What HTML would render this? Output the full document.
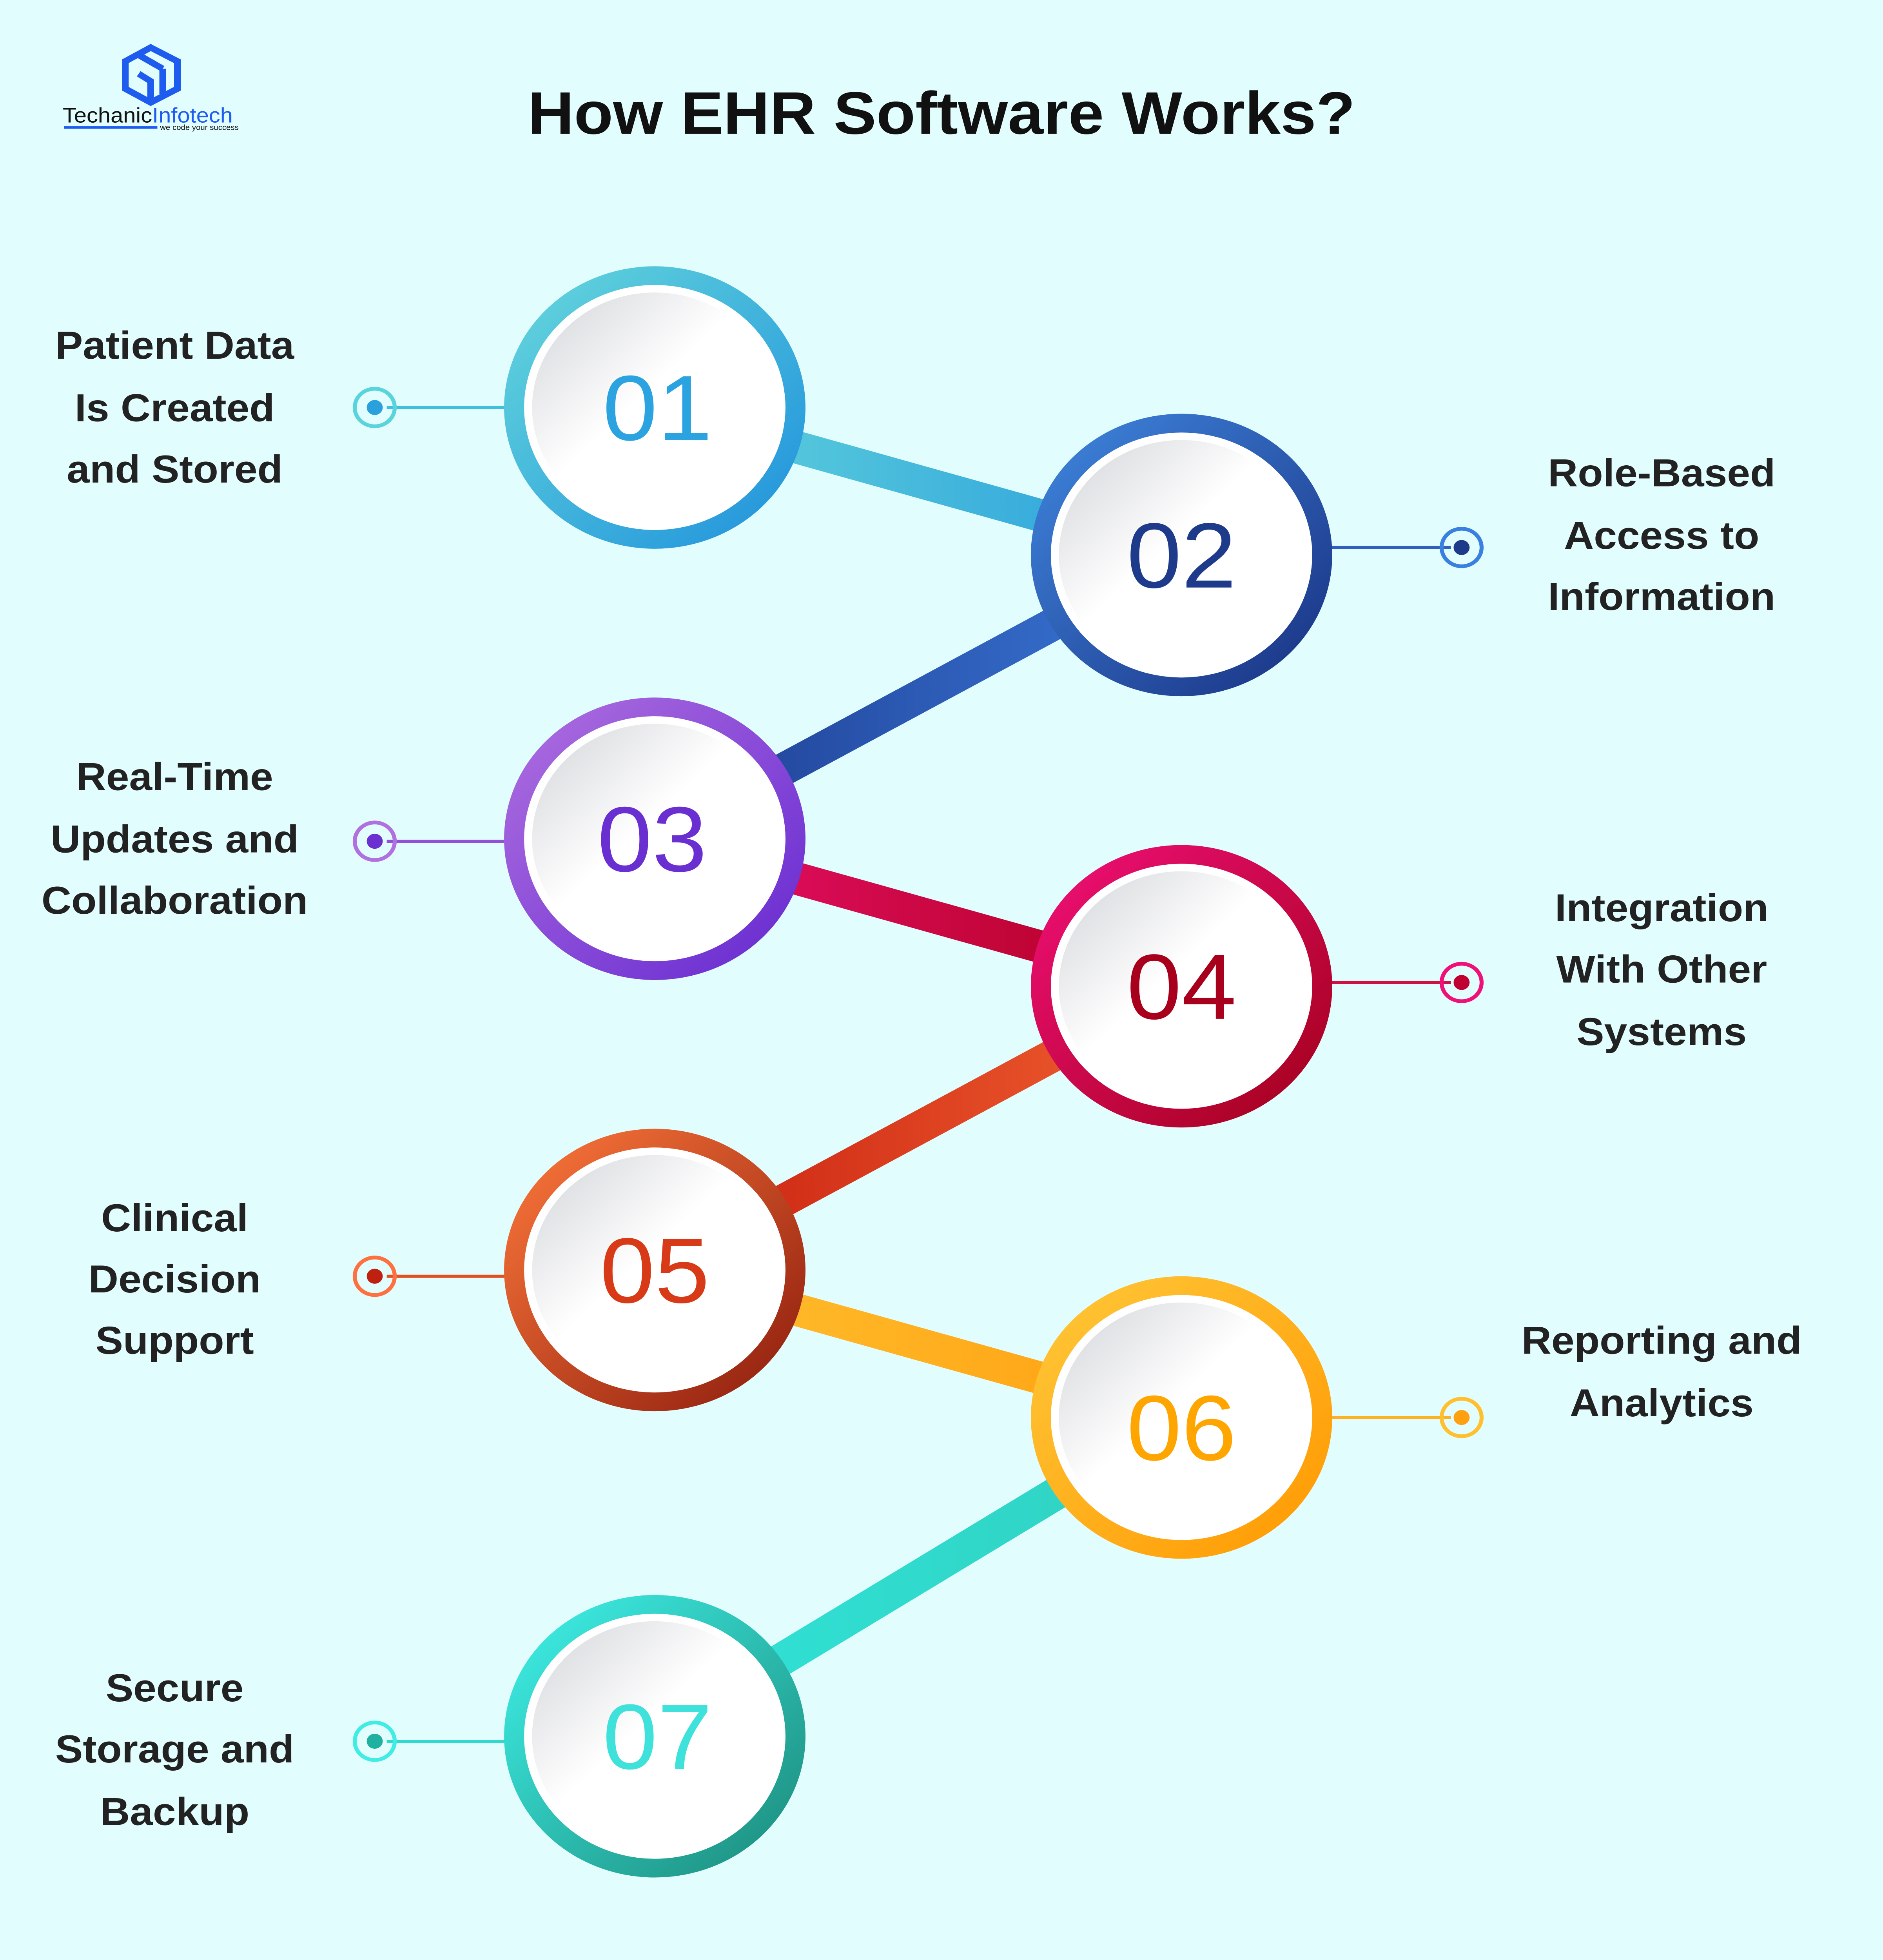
<!DOCTYPE html>
<html><head><meta charset="utf-8"><style>
html,body{margin:0;padding:0;background:#e2fdfe;overflow:hidden;width:100vw;height:100vh;}
svg{display:block;width:100vw;height:100vh;position:absolute;left:0;top:0}
text{font-family:"Liberation Sans",sans-serif}
</style></head><body>
<svg viewBox="0 0 1412 1568" preserveAspectRatio="none" xmlns="http://www.w3.org/2000/svg">
<defs>
<linearGradient id="g1" x1="0" y1="0" x2="1" y2="1"><stop offset="0" stop-color="#66d8dc"/><stop offset="1" stop-color="#1e90dc"/></linearGradient>
<linearGradient id="g2" x1="0" y1="0" x2="1" y2="1"><stop offset="0" stop-color="#4088e0"/><stop offset="1" stop-color="#182f80"/></linearGradient>
<linearGradient id="g3" x1="0" y1="0" x2="1" y2="1"><stop offset="0" stop-color="#b070e0"/><stop offset="1" stop-color="#6428d0"/></linearGradient>
<linearGradient id="g4" x1="0" y1="0" x2="1" y2="1"><stop offset="0" stop-color="#f2107a"/><stop offset="1" stop-color="#a00018"/></linearGradient>
<linearGradient id="g5" x1="0" y1="0" x2="1" y2="1"><stop offset="0" stop-color="#ff7a3c"/><stop offset="1" stop-color="#8a1a0c"/></linearGradient>
<linearGradient id="g6" x1="0" y1="0" x2="1" y2="1"><stop offset="0" stop-color="#ffc83a"/><stop offset="1" stop-color="#ff9800"/></linearGradient>
<linearGradient id="g7" x1="0" y1="0" x2="1" y2="1"><stop offset="0" stop-color="#40f4ec"/><stop offset="1" stop-color="#1a8878"/></linearGradient>
<linearGradient id="in" x1="0" y1="0" x2="1" y2="1"><stop offset="0" stop-color="#d2d4d8"/><stop offset="0.45" stop-color="#ffffff"/><stop offset="1" stop-color="#ffffff"/></linearGradient>
<linearGradient id="c12" x1="0" y1="0" x2="1" y2="0"><stop offset="0" stop-color="#62d4dc"/><stop offset="1" stop-color="#2a9edc"/></linearGradient>
<linearGradient id="c23" x1="1" y1="0" x2="0" y2="0"><stop offset="0" stop-color="#3a78d8"/><stop offset="1" stop-color="#1e3c90"/></linearGradient>
<linearGradient id="c34" x1="0" y1="0" x2="1" y2="0"><stop offset="0" stop-color="#e8106a"/><stop offset="1" stop-color="#b00020"/></linearGradient>
<linearGradient id="c45" x1="1" y1="0" x2="0" y2="0"><stop offset="0" stop-color="#f06030"/><stop offset="1" stop-color="#c82010"/></linearGradient>
<linearGradient id="c56" x1="0" y1="0" x2="1" y2="0"><stop offset="0" stop-color="#ffc030"/><stop offset="1" stop-color="#ffa010"/></linearGradient>
<linearGradient id="c67" x1="1" y1="0" x2="0" y2="0"><stop offset="0" stop-color="#30d0c0"/><stop offset="1" stop-color="#30e4d8"/></linearGradient>
</defs>
<rect width="1412" height="1568" fill="#e2fdfe"/>
<g transform="translate(92,35)" fill="none" stroke="#1e5cf0" stroke-width="5">
<path d="M21 3 L41 14 L41 36 L21 47 L2 36 L2 14 Z"/>
<path d="M12 9 L30 20 M12 24 L21 30 L21 47 M30 20 L30 40"/>
</g>
<text x="47" y="98" font-size="17" fill="#111">Techanic<tspan fill="#1e5cf0">Infotech</tspan></text>
<rect x="48" y="101" width="70" height="2" fill="#1e5cf0"/>
<text x="120" y="104" font-size="6" fill="#111">we code your success</text>
<text x="706" y="107" font-size="48" font-weight="bold" text-anchor="middle" fill="#111">How EHR Software Works?</text>
<line x1="491" y1="326" x2="886" y2="444" stroke="url(#c12)" stroke-width="26"/>
<line x1="886" y1="444" x2="491" y2="671" stroke="url(#c23)" stroke-width="26"/>
<line x1="491" y1="671" x2="886" y2="789" stroke="url(#c34)" stroke-width="26"/>
<line x1="886" y1="789" x2="491" y2="1016" stroke="url(#c45)" stroke-width="26"/>
<line x1="491" y1="1016" x2="886" y2="1134" stroke="url(#c56)" stroke-width="26"/>
<line x1="886" y1="1134" x2="491" y2="1389" stroke="url(#c67)" stroke-width="26"/>
<g stroke-width="2.5">
<line x1="290" y1="326" x2="380" y2="326" stroke="#40c0dc"/><circle cx="281" cy="326" r="15" fill="none" stroke="#5ad4dc" stroke-width="3"/><circle cx="281" cy="326" r="6" fill="#2aa0dc" stroke="none"/>
<line x1="996" y1="438" x2="1088" y2="438" stroke="#2f5fc0"/><circle cx="1096" cy="438" r="15" fill="none" stroke="#3a80e0" stroke-width="3"/><circle cx="1096" cy="438" r="6" fill="#1e3a8a" stroke="none"/>
<line x1="290" y1="673" x2="380" y2="673" stroke="#9050d8"/><circle cx="281" cy="673" r="15" fill="none" stroke="#b070e0" stroke-width="3"/><circle cx="281" cy="673" r="6" fill="#6a30d0" stroke="none"/>
<line x1="996" y1="786" x2="1088" y2="786" stroke="#d01040"/><circle cx="1096" cy="786" r="15" fill="none" stroke="#f0107a" stroke-width="3"/><circle cx="1096" cy="786" r="6" fill="#c00030" stroke="none"/>
<line x1="290" y1="1021" x2="380" y2="1021" stroke="#e05020"/><circle cx="281" cy="1021" r="15" fill="none" stroke="#ff7040" stroke-width="3"/><circle cx="281" cy="1021" r="6" fill="#c02010" stroke="none"/>
<line x1="996" y1="1134" x2="1088" y2="1134" stroke="#ffb020"/><circle cx="1096" cy="1134" r="15" fill="none" stroke="#ffc030" stroke-width="3"/><circle cx="1096" cy="1134" r="6" fill="#ffa010" stroke="none"/>
<line x1="290" y1="1393" x2="380" y2="1393" stroke="#30d8d0"/><circle cx="281" cy="1393" r="15" fill="none" stroke="#40ece4" stroke-width="3"/><circle cx="281" cy="1393" r="6" fill="#20b0a0" stroke="none"/>
</g>
<g>
<circle cx="491" cy="326" r="113" fill="url(#g1)"/><circle cx="491" cy="326" r="98" fill="#fff"/><circle cx="491" cy="326" r="92" fill="url(#in)"/>
<text x="493" y="352" font-size="74" text-anchor="middle" fill="#2aa3e0">01</text>
<circle cx="886" cy="444" r="113" fill="url(#g2)"/><circle cx="886" cy="444" r="98" fill="#fff"/><circle cx="886" cy="444" r="92" fill="url(#in)"/>
<text x="886" y="470" font-size="74" text-anchor="middle" fill="#1e3a8a">02</text>
<circle cx="491" cy="671" r="113" fill="url(#g3)"/><circle cx="491" cy="671" r="98" fill="#fff"/><circle cx="491" cy="671" r="92" fill="url(#in)"/>
<text x="489" y="697" font-size="74" text-anchor="middle" fill="#6a2fd0">03</text>
<circle cx="886" cy="789" r="113" fill="url(#g4)"/><circle cx="886" cy="789" r="98" fill="#fff"/><circle cx="886" cy="789" r="92" fill="url(#in)"/>
<text x="886" y="815" font-size="74" text-anchor="middle" fill="#a8001c">04</text>
<circle cx="491" cy="1016" r="113" fill="url(#g5)"/><circle cx="491" cy="1016" r="98" fill="#fff"/><circle cx="491" cy="1016" r="92" fill="url(#in)"/>
<text x="491" y="1042" font-size="74" text-anchor="middle" fill="#d83a18">05</text>
<circle cx="886" cy="1134" r="113" fill="url(#g6)"/><circle cx="886" cy="1134" r="98" fill="#fff"/><circle cx="886" cy="1134" r="92" fill="url(#in)"/>
<text x="886" y="1168" font-size="74" text-anchor="middle" fill="#ffa500">06</text>
<circle cx="491" cy="1389" r="113" fill="url(#g7)"/><circle cx="491" cy="1389" r="98" fill="#fff"/><circle cx="491" cy="1389" r="92" fill="url(#in)"/>
<text x="493" y="1415" font-size="74" text-anchor="middle" fill="#3ee2da">07</text>
</g>
<g font-size="31" font-weight="bold" fill="#222" text-anchor="middle">
<text x="131" y="287">Patient Data</text><text x="131" y="337">Is Created</text><text x="131" y="386">and Stored</text>
<text x="1246" y="389">Role-Based</text><text x="1246" y="439">Access to</text><text x="1246" y="488">Information</text>
<text x="131" y="632">Real-Time</text><text x="131" y="682">Updates and</text><text x="131" y="731">Collaboration</text>
<text x="1246" y="737">Integration</text><text x="1246" y="786">With Other</text><text x="1246" y="836">Systems</text>
<text x="131" y="985">Clinical</text><text x="131" y="1034">Decision</text><text x="131" y="1083">Support</text>
<text x="1246" y="1083">Reporting and</text><text x="1246" y="1133">Analytics</text>
<text x="131" y="1361">Secure</text><text x="131" y="1410">Storage and</text><text x="131" y="1460">Backup</text>
</g>
</svg>
</body></html>
